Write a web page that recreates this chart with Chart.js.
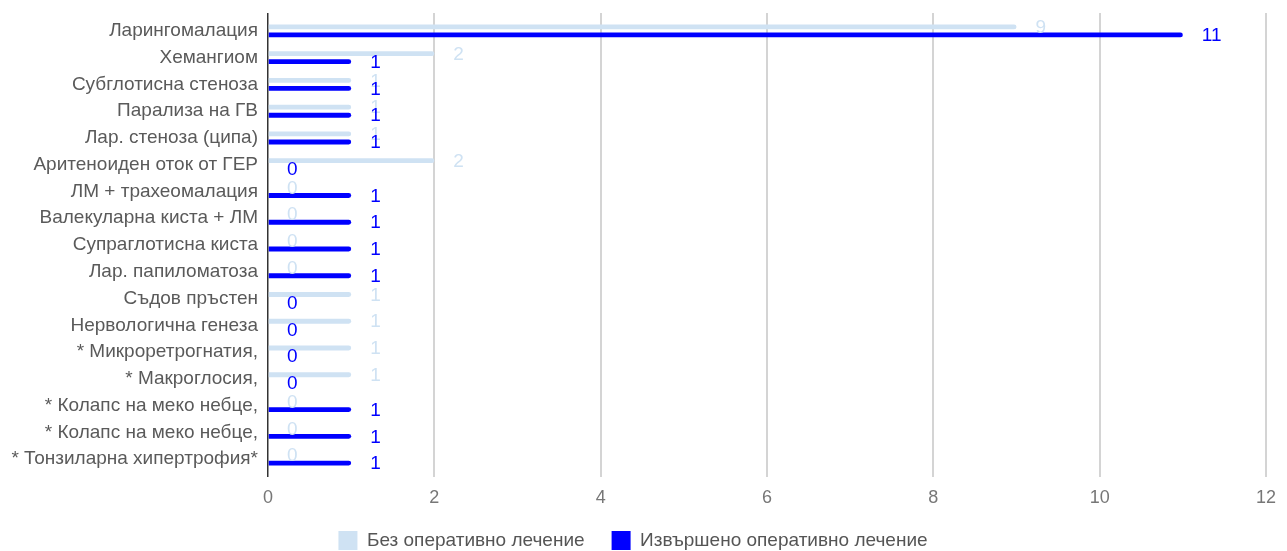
<!DOCTYPE html>
<html>

<head>
    <title>Ларингомалация</title>
    <script src="https://cdn.jsdelivr.net/npm/chart.js@4.4.0/dist/chart.umd.min.js"></script>
    <style>
        html, body { margin: 0; padding: 0; background: #fff; }
        #wrap { width: 1287px; height: 551px; }
    </style>
</head>

<body>
    <div id="wrap"><canvas id="myChart"></canvas></div>
    <script>

        var categories = [
            'Ларингомалация',
            'Хемангиом',
            'Субглотисна стеноза',
            'Парализа на ГВ',
            'Лар. стеноза (ципа)',
            'Аритеноиден оток от ГЕР',
            'ЛМ + трахеомалация',
            'Валекуларна киста + ЛМ',
            'Супраглотисна киста',
            'Лар. папиломатоза',
            'Съдов пръстен',
            'Нервологична генеза',
            '* Микроретрогнатия,',
            '* Макроглосия,',
            '* Колапс на меко небце,',
            '* Колапс на меко небце,',
            '* Тонзиларна хипертрофия*'
        ];
        var withoutSurgery = [9, 2, 1, 1, 1, 2, 0, 0, 0, 0, 1, 1, 1, 1, 0, 0, 0];
        var withSurgery = [11, 1, 1, 1, 1, 0, 1, 1, 1, 1, 0, 0, 0, 0, 1, 1, 1];
        var xTicks = [0, 2, 4, 6, 8, 10, 12];

        var FONT = "'Liberation Sans', Arial, sans-serif";

        // value labels to the right of each bar
        var barLabels = {
            id: 'barLabels',
            afterDatasetsDraw: function (chart) {
                var ctx = chart.ctx;
                chart.data.datasets.forEach(function (ds, di) {
                    var meta = chart.getDatasetMeta(di);
                    ctx.save();
                    ctx.font = '19px ' + FONT;
                    ctx.fillStyle = ds.labelColor;
                    ctx.textAlign = 'left';
                    ctx.textBaseline = 'middle';
                    meta.data.forEach(function (el, i) {
                        ctx.fillText(String(ds.data[i]), el.x + 19, el.y + 1);
                    });
                    ctx.restore();
                });
            }
        };

        var ctx = document.getElementById('myChart').getContext('2d');
        var chart = new Chart(ctx, {
            type: 'bar',
            data: {
                labels: categories.map(function (c, i) { return i; }),
                datasets: [{
                    label: 'Без оперативно лечение',
                    data: withoutSurgery,
                    backgroundColor: '#cfe2f3',
                    labelColor: '#cfe2f3',
                    borderWidth: 0,
                    borderRadius: 2.5
                }, {
                    label: 'Извършено оперативно лечение',
                    data: withSurgery,
                    backgroundColor: '#0000ff',
                    labelColor: '#0000ff',
                    borderWidth: 0,
                    borderRadius: 2.5
                }]
            },
            options: {
                indexAxis: 'y',
                responsive: true,
                maintainAspectRatio: false,
                animation: false,
                categoryPercentage: 0.6,
                barPercentage: 0.6,
                layout: { padding: { top: 13, right: 21, left: 0, bottom: -9 } },
                scales: {
                    x: {
                        type: 'linear',
                        min: 0,
                        max: 12,
                        afterBuildTicks: function (scale) {
                            scale.ticks = xTicks.map(function (v) { return { value: v }; });
                        },
                        afterFit: function (scale) { scale.height = 27; },
                        grid: {
                            drawTicks: false,
                            color: function (c) { return c.tick && c.tick.value === 0 ? '#333333' : '#d4d4d4'; },
                            lineWidth: function (c) { return c.tick && c.tick.value === 0 ? 1.5 : 2; }
                        },
                        border: { display: false },
                        ticks: {
                            padding: 10,
                            color: '#777777',
                            font: { family: FONT, size: 18 }
                        }
                    },
                    y: {
                        type: 'linear',
                        reverse: true,
                        offset: false,
                        min: -0.67,
                        max: 16.67,
                        afterBuildTicks: function (scale) {
                            scale.ticks = categories.map(function (c, i) { return { value: i }; });
                        },
                        afterFit: function (scale) {
                            scale.width = 268;
                            scale.paddingTop = 0;
                            scale.paddingBottom = 0;
                        },
                        grid: { display: false, drawTicks: false },
                        border: { display: false },
                        ticks: {
                            padding: 10,
                            autoSkip: false,
                            color: '#5a5a5a',
                            font: { family: FONT, size: 19 },
                            callback: function (v) { return categories[v]; }
                        }
                    }
                },
                plugins: {
                    tooltip: { enabled: false },
                    legend: {
                        position: 'bottom',
                        labels: {
                            boxWidth: 19,
                            boxHeight: 19,
                            padding: 27,
                            color: '#555555',
                            font: { family: FONT, size: 19 }
                        }
                    }
                }
            },
            plugins: [barLabels]
        });
    </script>

</body>

</html>
